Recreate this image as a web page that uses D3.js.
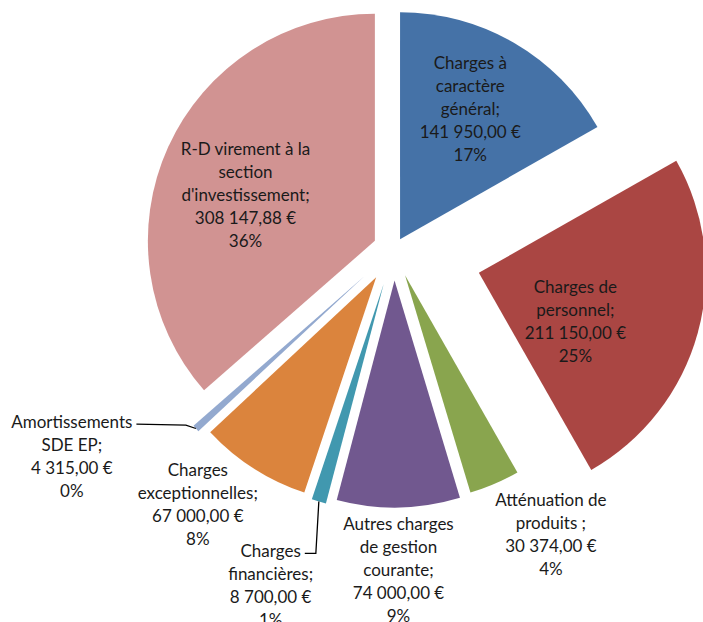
<!DOCTYPE html>
<html>
<head>
<meta charset="utf-8">
<script src="https://cdn.jsdelivr.net/npm/d3@7"></script>
<style>
  body { margin: 0; background: #fff; }
  svg { display: block; }
  text { font-family: Lato, "Open Sans", sans-serif; font-size: 17px; fill: #1a1a1a; }
</style>
</head>
<body>
<svg width="703" height="622"></svg>
<script>
// data (clockwise from 12 o'clock)
const categories = [
  ["Charges à", "caractère", "général;"],
  ["Charges de", "personnel;"],
  ["Atténuation de", "produits ;"],
  ["Autres charges", "de gestion", "courante;"],
  ["Charges", "financières;"],
  ["Charges", "exceptionnelles;"],
  ["Amortissements", "SDE EP;"],
  ["R-D virement à la", "section", "d'investissement;"]
];
const values = [141950, 211150, 30374, 74000, 8700, 67000, 4315, 308147.88];
const percents = ["17%", "25%", "4%", "9%", "1%", "8%", "0%", "36%"];

// styling
const colors = ["#4572A7", "#AA4643", "#89A54E", "#71588F", "#4198AF", "#DB843D", "#93A9CF", "#D19392"];
const explode = [12, 88, 28, 31, 36, 33, 40, 21];
const labelK = [0.65, 0.45, 1.25, 1.25, 1.25, 1.25, 1.25, 0.65];
const labelNudge = [[-4, -3], [-2, 21], [34, -2], [-1, 5], [-32, 29], [-25, -12], [-82, -11], [5, 15]];
const leader = [false, false, false, false, true, false, true, false];

const width = 703, height = 622;
const cx = 394, cy = 249.5, radius = 227, lineH = 23;

const svg = d3.select("svg");
svg.append("rect").attr("width", width).attr("height", height).attr("fill", "#fff");

const pie = d3.pie().sort(null).value(d => d)(values);
const arc = d3.arc().innerRadius(0).outerRadius(radius);

const frenchLocale = d3.formatLocale({decimal: ",", thousands: " ", grouping: [3], currency: ["", " €"]});
const money = frenchLocale.format("$,.2f");

const g = svg.append("g").attr("transform", `translate(${cx}, ${cy})`);

// direction of the bisector of each slice
const dirOf = d => {
  const a = (d.startAngle + d.endAngle) / 2;
  return [Math.sin(a), -Math.cos(a)];
};

// slices
g.selectAll("path.slice")
  .data(pie)
  .join("path")
  .attr("class", "slice")
  .attr("d", arc)
  .attr("fill", (d, i) => colors[i])
  .attr("transform", (d, i) => {
    const [ux, uy] = dirOf(d);
    return `translate(${ux * explode[i]}, ${uy * explode[i]})`;
  });

// labels
pie.forEach((d, i) => {
  const [ux, uy] = dirOf(d);
  const apx = ux * explode[i], apy = uy * explode[i];
  const lx = apx + ux * radius * labelK[i] + labelNudge[i][0];
  const ly = apy + uy * radius * labelK[i] + labelNudge[i][1];
  const lines = categories[i].concat([money(values[i]), percents[i]]);
  const n = lines.length;

  const t = g.append("text")
    .attr("text-anchor", "middle");
  lines.forEach((s, j) => {
    t.append("tspan")
      .attr("x", lx)
      .attr("y", ly + (j - (n - 1) / 2) * lineH)
      .attr("dominant-baseline", "central")
      .text(s);
  });

  if (leader[i]) {
    // line from the outer edge of the slice to the first label line
    const ox = apx + ux * radius, oy = apy + uy * radius;
    const firstY = ly - (n - 1) / 2 * lineH + 3;
    const w = t.select("tspan").node().getComputedTextLength();
    const endX = lx + w / 2 + 4;
    const pts = ux < -0.5
      ? [[ox, oy], [ox - 10, firstY + 1], [endX, firstY]]
      : [[ox, oy], [ox - 3, firstY], [endX, firstY]];
    g.append("path")
      .attr("d", d3.line()(pts))
      .attr("fill", "none")
      .attr("stroke", "#000")
      .attr("stroke-width", 1.3);
  }
});
</script>
</body>
</html>
